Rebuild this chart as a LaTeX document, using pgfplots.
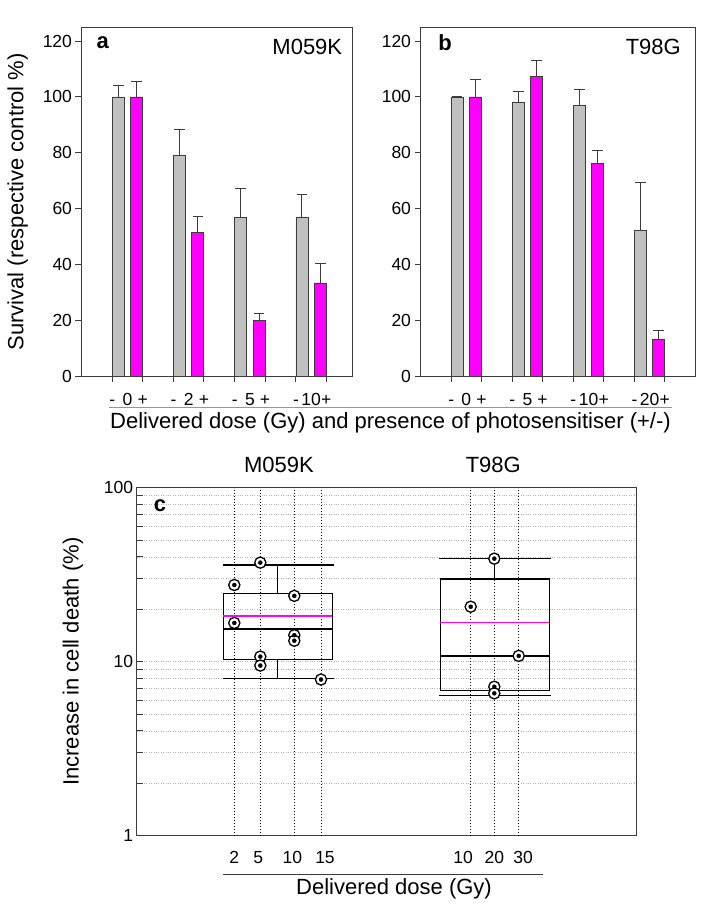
\documentclass[border=0pt]{standalone}
\usepackage{fontspec}
\setmainfont{Liberation Sans}
\usepackage{pgfplots}
\usepackage{pgfplotstable}
\pgfplotsset{compat=1.18}

\definecolor{bargray}{RGB}{192,192,192}
\definecolor{barmag}{RGB}{255,0,255}
\definecolor{frame}{RGB}{60,60,60}
\definecolor{sepline}{RGB}{150,150,150}

% panel a: M059K survival (bar position, mean, +error)
\pgfplotstableread{
x y e
0.85 100  4.0
1.85 79.0 9.2
2.85 56.8 10.4
3.85 57.1 8.1
}\aminus
\pgfplotstableread{
x y e
1.15 100  5.5
2.15 51.5 5.9
3.15 20.0 2.5
4.15 33.5 6.8
}\aplus
% panel b: T98G survival
\pgfplotstableread{
x y e
0.85 100  0
1.85 98.1 3.7
2.85 97.0 5.5
3.85 52.2 17.2
}\bminus
\pgfplotstableread{
x y e
1.15 100   6.1
2.15 107.4 5.7
3.15 76.3  4.5
4.15 13.3  3.4
}\bplus
% panel c: individual points (x position, increase in cell death)
\pgfplotstableread{
x y
1.952 27.6
1.952 16.7
2.472 37.1
2.472 10.7
2.472 9.5
3.152 23.9
3.152 14.2
3.152 13.2
3.686 7.9
6.680 20.7
7.152 39.1
7.152 7.18
7.152 6.58
7.640 10.8
}\cpoints

\pgfplotsset{
  every axis/.append style={font=\fontsize{22}{26}\selectfont},
  tick label style={font=\fontsize{17.5}{20}\selectfont},
  /pgf/number format/assume math mode=true,
  survival/.style={
    scale only axis, anchor=south west,
    height=349.7pt,
    ymin=0, ymax=125,
    ytick={0,20,...,120},
    axis line style={draw=frame, line width=0.9pt},
    tick style={draw=frame, line width=0.9pt},
    tick align=outside, major tick length=5.5pt,
    xtick pos=bottom, ytick pos=left,
    x tick label style={text height=12.6pt, text depth=0pt, yshift=-7pt},
    xtick={0.752,1.248,1.752,2.248,2.752,3.248,3.752,4.248},
    xticklabels={-,+,-,+,-,+,-,+},
    extra x ticks={1,2,3,4},
    extra x tick style={major tick length=0pt, x tick label style={yshift=-5.5pt}},
    ylabel shift=8pt,
  },
  gbar/.style={ybar, bar width=0.196, bar shift=0, fill=bargray, draw=frame, line width=0.8pt,
    error bars/.cd, y dir=plus, y explicit,
    error bar style={draw=frame, line width=0.9pt},
    error mark options={rotate=90, draw=frame, line width=0.9pt, mark size=5.3pt}},
  mbar/.style={ybar, bar width=0.196, bar shift=0, fill=barmag, draw=frame, line width=0.8pt,
    error bars/.cd, y dir=plus, y explicit,
    error bar style={draw=frame, line width=0.9pt},
    error mark options={rotate=90, draw=frame, line width=0.9pt, mark size=5.3pt}},
}

\begin{document}
\begin{tikzpicture}
\path[use as bounding box] (0,0) rectangle (721pt,905pt);

% ---- panel a ----
\begin{axis}[survival, at={(81pt,528.3pt)}, width=271.7pt,
  xmin=0.24, xmax=4.68,
  extra x tick labels={0,2,5,10},
  ylabel={Survival (respective control \%)}]
\addplot[gbar] table[x=x, y=y, y error=e] {\aminus};
\addplot[mbar] table[x=x, y=y, y error=e] {\aplus};
\end{axis}

% ---- panel b ----
\begin{axis}[survival, at={(420pt,528.3pt)}, width=275.3pt,
  xmin=0.242, xmax=4.748,
  extra x tick labels={0,5,10,20}]
\addplot[gbar] table[x=x, y=y, y error=e] {\bminus};
\addplot[mbar] table[x=x, y=y, y error=e] {\bplus};
\end{axis}

\node[font=\fontsize{22}{26}\selectfont\bfseries] at (102.7pt,862.3pt) {a};
\node[font=\fontsize{22}{26}\selectfont] at (307.3pt,858.3pt) {M059K};
\node[font=\fontsize{22}{26}\selectfont\bfseries] at (445pt,862.3pt) {b};
\node[font=\fontsize{22}{26}\selectfont] at (653.3pt,858.3pt) {T98G};
\draw[sepline, line width=1.3pt] (109.3pt,497.7pt) -- (671.7pt,497.7pt);
\node[font=\fontsize{22}{26}\selectfont] at (390.5pt,482pt) {Delivered dose (Gy) and presence of photosensitiser (+/-)};

% ---- panel c ----
\begin{axis}[at={(136.7pt,69.3pt)}, anchor=south west, scale only axis,
  width=500pt, height=348pt,
  ymode=log, ymin=1, ymax=100, xmin=0, xmax=10,
  axis line style={draw=frame, line width=0.9pt},
  tick style={draw=frame, line width=0.9pt},
  tick align=inside, major tick length=6.5pt, minor tick length=6.5pt,
  ytick pos=left, xtick pos=bottom,
  ytick={1,10,100}, yticklabels={1,10,100},
  minor ytick={2,3,4,5,6,7,8,9,20,30,40,50,60,70,80,90},
  ymajorgrids, yminorgrids,
  major grid style={gray!60, dotted, line width=0.8pt},
  minor grid style={gray!60, dotted, line width=0.8pt},
  xtick=\empty,
  extra x ticks={1.952,2.472,3.152,3.686,6.68,7.152,7.64},
  extra x tick labels={2,5\hspace*{4pt},10\hspace*{4pt},\hspace*{8pt}15,10\hspace*{15pt},20,\hspace*{9pt}30},
  extra x tick style={grid=major, major tick length=0pt,
    x tick label style={yshift=-12pt},
    major grid style={black, dash pattern=on 1pt off 2pt, line width=1pt}},
  ylabel={Increase in cell death (\%)},
  ylabel shift=14pt,
  clip=false]
% M059K box
\addplot[black, line width=1.3pt] coordinates {(1.732,10.3) (3.912,10.3) (3.912,24.7) (1.732,24.7) (1.732,10.3)};
\addplot[black, line width=1.3pt] coordinates {(1.732,15.4) (3.912,15.4)};
\addplot[black, line width=1.3pt] coordinates {(2.822,24.7) (2.822,35.9)};
\addplot[black, line width=1.3pt] coordinates {(1.72,35.9) (3.94,35.9)};
\addplot[black, line width=1.3pt] coordinates {(2.822,10.3) (2.822,8.03)};
\addplot[black, line width=1.3pt] coordinates {(1.72,8.03) (3.94,8.03)};
\addplot[barmag, line width=1.8pt] coordinates {(1.732,18.4) (3.912,18.4)};
% T98G box
\addplot[black, line width=1.3pt] coordinates {(6.072,6.85) (8.252,6.85) (8.252,29.9) (6.072,29.9) (6.072,6.85)};
\addplot[black, line width=1.3pt] coordinates {(6.072,10.8) (8.252,10.8)};
\addplot[black, line width=1.3pt] coordinates {(7.162,29.9) (7.162,39.1)};
\addplot[black, line width=1.3pt] coordinates {(6.052,39.1) (8.28,39.1)};
\addplot[black, line width=1.3pt] coordinates {(7.162,6.85) (7.162,6.4)};
\addplot[black, line width=1.3pt] coordinates {(6.052,6.4) (8.28,6.4)};
\addplot[barmag, line width=1.8pt] coordinates {(6.072,16.8) (8.252,16.8)};
% points
\addplot[only marks, mark=*, mark size=5.6pt, mark options={fill=white, draw=black, line width=1.3pt}] table[x=x, y=y] {\cpoints};
\addplot[only marks, mark=*, mark size=2pt, mark options={fill=black, draw=black}] table[x=x, y=y] {\cpoints};
\end{axis}

\node[font=\fontsize{22}{26}\selectfont\bfseries] at (160pt,399pt) {c};
\node[font=\fontsize{22}{26}\selectfont] at (279pt,440pt) {M059K};
\node[font=\fontsize{22}{26}\selectfont] at (493.3pt,440pt) {T98G};
\draw[frame, line width=1pt] (222.7pt,30.7pt) -- (543.3pt,30.7pt);
\node[font=\fontsize{22}{26}\selectfont] at (394pt,16pt) {Delivered dose (Gy)};
\end{tikzpicture}
\end{document}
